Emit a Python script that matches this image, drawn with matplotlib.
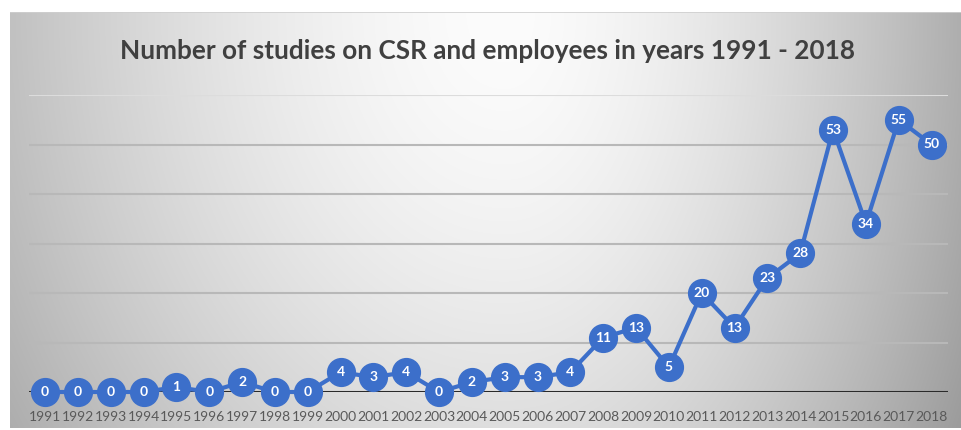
import numpy as np
import matplotlib
matplotlib.use('Agg')
import matplotlib.pyplot as plt

# ── Data ─────────────────────────────────────────────────────────────────────
years = list(range(1991, 2019))
studies = [0, 0, 0, 0, 1, 0, 2, 0, 0, 4, 3, 4, 0, 2, 3, 3, 4,
           11, 13, 5, 20, 13, 23, 28, 53, 34, 55, 50]

BLUE = '#3c6fca'
FONT = 'Lato'

plt.rcParams['font.family'] = [FONT, 'DejaVu Sans']

W, H = 962, 430
fig = plt.figure(figsize=(W / 100, H / 100), dpi=100)
fig.patch.set_facecolor('white')

# ── Gray radial-ish gradient background panel ───────────────────────────────
bg = fig.add_axes([10 / W, 2 / H, 952 / W, 416 / H])
bg.set_axis_off()
gx, gy = np.meshgrid(np.linspace(0, 1, 400), np.linspace(1, 0, 200))
dx = np.where(gx > 0.52, (gx - 0.52) / 0.48, (0.52 - gx) / 0.62)
dy = (1 - gy) * 0.55
r = np.clip(np.sqrt(dx ** 2 + dy ** 2), 0, 1.2)
val = 252 - 78 * r ** 1.6
img = np.dstack([val, val, val]).clip(0, 255) / 255
bg.imshow(img, aspect='auto', extent=(0, 1, 0, 1), interpolation='bilinear')
bg.plot([0, 1], [1, 1], color='#cfcfcf', lw=1.2, transform=bg.transAxes)

# ── Main axes ───────────────────────────────────────────────────────────────
ax = fig.add_axes([28.6 / W, (H - 392) / H, 919.4 / W, 297 / H])
ax.patch.set_alpha(0)
for s in ax.spines.values():
    s.set_visible(False)

x = np.arange(len(years))
ax.set_xlim(-0.5, len(years) - 0.5)
ax.set_ylim(0, 60)

for g in range(10, 61, 10):
    ax.axhline(g, color='#b8b8b8' if g < 60 else '#dcdcdc', lw=1.5, zorder=1)
ax.axhline(0, color='#2a2a2a', lw=2.2, zorder=2, xmin=0.002, xmax=0.999)

ax.plot(x, studies, color=BLUE, lw=3, marker='o', markersize=20,
        markerfacecolor=BLUE, markeredgecolor=BLUE, clip_on=False, zorder=3)
for xi, v in zip(x, studies):
    ax.text(xi, v, str(v), color='white', fontsize=10, fontweight='bold',
            ha='center', va='center', zorder=4)

ax.set_yticks([])
ax.set_xticks(x)
ax.set_xticklabels([str(y) for y in years], fontsize=10, color='#595959')
ax.tick_params(axis='x', length=0, pad=14)

fig.text(0.507, 1 - 51 / H,
         'Number of studies on CSR and employees in years 1991 - 2018',
         ha='center', va='center', fontsize=18.8, fontweight='bold',
         color='#404040')

fig.savefig('out.png', dpi=100, facecolor='white')
